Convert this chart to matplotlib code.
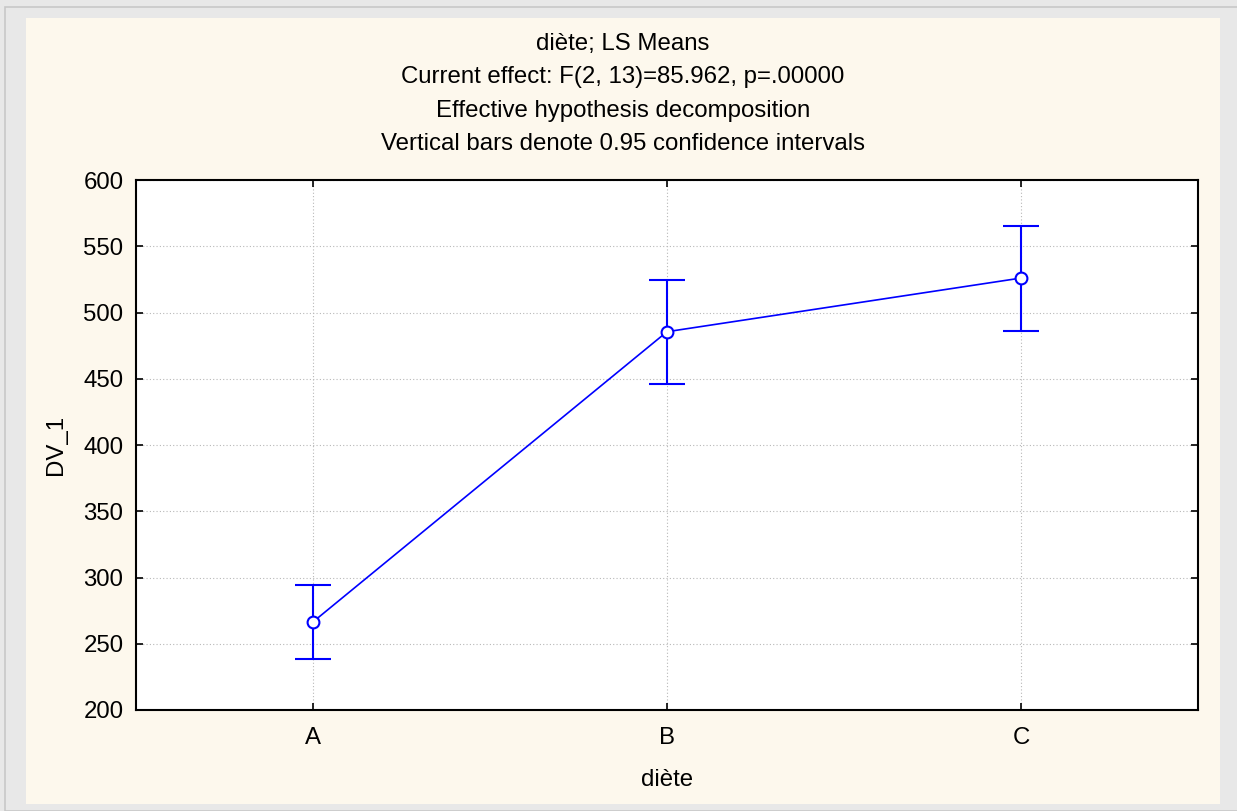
import matplotlib
matplotlib.use('Agg')
from matplotlib import pyplot as plt
from matplotlib.patches import Rectangle

# data
groups = ['A', 'B', 'C']
means = [266.5, 485.5, 526.0]
ci_low = [238.3, 445.8, 486.2]
ci_high = [294.3, 524.8, 565.6]

title_lines = ['diète; LS Means',
               'Current effect: F(2, 13)=85.962, p=.00000',
               'Effective hypothesis decomposition',
               'Vertical bars denote 0.95 confidence intervals']

plt.rcParams['font.family'] = ['Liberation Sans', 'DejaVu Sans']
fs = 17.3

W, H = 1237, 811
fig = plt.figure(figsize=(W / 100, H / 100), dpi=100)
fig.patch.set_facecolor('#e8e8e8')

# cream panel and thin border like the window frame
fig.patches.append(Rectangle((5 / W, 0), 1, 1 - 7 / H, transform=fig.transFigure,
                             facecolor='none', edgecolor='#c8c8c8', linewidth=1.2, zorder=-2))
fig.patches.append(Rectangle((26 / W, 1 - 804 / H), (1220 - 26) / W, (804 - 18) / H,
                             transform=fig.transFigure, facecolor='#fdf8ed',
                             edgecolor='none', zorder=-1))

left, right, top, bottom = 136, 1198, 180, 710
ax = fig.add_axes([left / W, 1 - bottom / H, (right - left) / W, (bottom - top) / H])
ax.set_zorder(1)
ax.set_facecolor('white')

x = list(range(len(groups)))
yerr = [[m - lo for m, lo in zip(means, ci_low)],
        [hi - m for m, hi in zip(means, ci_high)]]
ax.errorbar(x, means, yerr=yerr, color='#0000ff', linewidth=1.2,
            elinewidth=1.5, capsize=13, capthick=1.5,
            marker='o', markersize=8.5, markerfacecolor='white',
            markeredgecolor='#0000ff', markeredgewidth=1.5, zorder=3)

ax.set_xlim(-0.5, 2.5)
ax.set_ylim(200, 600)
ax.set_xticks(x)
ax.set_xticklabels(groups)
ax.set_yticks(range(200, 601, 50))

ax.grid(True, linestyle=(0, (1, 2)), color='#b8b8b8', linewidth=0.8)
ax.set_axisbelow(True)

for s in ax.spines.values():
    s.set_linewidth(1.5)
    s.set_color('black')
ax.tick_params(axis='y', direction='in', length=5, width=1.2, right=True,
               labelsize=fs, pad=9)
ax.tick_params(axis='x', direction='in', length=5, width=1.2, top=True,
               labelsize=fs, pad=12)

ax.set_xlabel('diète', fontsize=fs, labelpad=15)
ax.set_ylabel('DV_1', fontsize=fs, labelpad=12)

for i, line in enumerate(title_lines):
    fig.text(623 / W, 1 - (44 + i * 33.5) / H, line, ha='center', va='center', fontsize=fs)

fig.savefig('out.png', dpi=100, facecolor=fig.get_facecolor())
